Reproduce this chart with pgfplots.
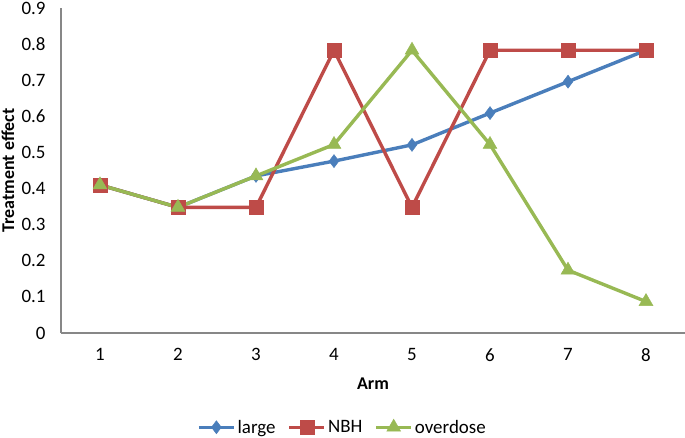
\documentclass[border=0pt]{standalone}
\usepackage{pgfplots}
\pgfplotsset{compat=1.18}
\usepackage{fontspec}
\setmainfont{Carlito}
\definecolor{cblue}{HTML}{4A7EBB}
\definecolor{cred}{HTML}{BE4B48}
\definecolor{cgreen}{HTML}{98B954}
\definecolor{caxis}{HTML}{878787}
\begin{document}
\begin{tikzpicture}[x=1bp,y=1bp]
\path[use as bounding box] (-61,-105) rectangle (624,333);
\begin{axis}[
  at={(0,0)}, anchor=south west,
  scale only axis, width=624bp, height=325bp,
  xmin=0.5, xmax=8.5, ymin=0, ymax=0.9,
  axis x line=bottom, axis y line=left,
  axis line style={caxis, line width=1.2bp, -},
  xtick={1,...,8}, ytick={0,0.1,...,0.9},
  major tick length=0pt,
  /pgf/number format/assume math mode=true,
  yticklabel style={/pgf/number format/fixed, /pgf/number format/precision=1, xshift=-12bp},
  xticklabel style={yshift=-12bp},
  tick label style={font=\fontsize{19}{22}\selectfont},
  xlabel={\textbf{Arm}}, ylabel={\textbf{Treatment effect}},
  label style={font=\fontsize{18}{22}\selectfont},
  xlabel style={at={(axis description cs:0.5,-0.157)}, anchor=center},
  ylabel style={at={(axis description cs:-0.085,0.5)}, anchor=center},
  legend columns=3,
  legend style={at={(0.451,-0.29)}, anchor=center, draw=none, inner sep=1bp, font=\fontsize{19}{22}\selectfont,
    /tikz/every even column/.append style={column sep=10bp}},
  legend image code/.code={\draw[mark repeat=2,mark phase=2] plot coordinates {(0cm,0cm) (0.62cm,0cm) (1.24cm,0cm)};},
  clip=false,
]
\addplot[cblue, line width=3.4bp, mark=diamond*, mark size=6.5bp, mark options={solid, fill=cblue, line width=0.5bp}]
  coordinates {(1,0.41) (2,0.348) (3,0.435) (4,0.476) (5,0.521) (6,0.609) (7,0.696) (8,0.783)};
\addlegendentry{large}
\addplot[cred, line width=3.4bp, mark=square*, mark size=7bp, mark options={solid, fill=cred, line width=0.5bp}]
  coordinates {(1,0.41) (2,0.348) (3,0.348) (4,0.783) (5,0.348) (6,0.783) (7,0.783) (8,0.783)};
\addlegendentry{NBH}
\addplot[cgreen, line width=3.4bp, mark=triangle*, mark size=8bp, mark options={solid, fill=cgreen, line width=0.5bp}]
  coordinates {(1,0.41) (2,0.348) (3,0.435) (4,0.522) (5,0.783) (6,0.522) (7,0.174) (8,0.087)};
\addlegendentry{overdose}
\end{axis}
\end{tikzpicture}
\end{document}
